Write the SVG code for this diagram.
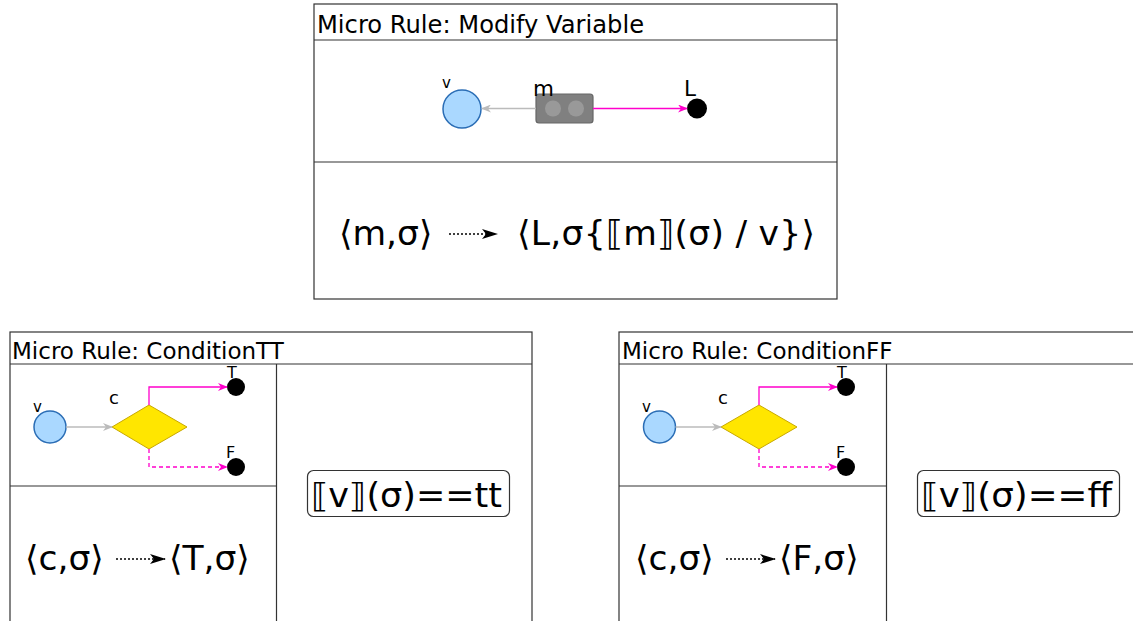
<svg xmlns="http://www.w3.org/2000/svg" width="1133" height="621" viewBox="0 0 1133 621">
<style>
.frame{fill:#fff;stroke:#333;stroke-width:1.2}
.ln{stroke:#333;stroke-width:1.2;fill:none}
.t{font-family:"DejaVu Sans",sans-serif;fill:#000}
.title{font-size:24.2px}
.title2{font-size:23px}
.lbl{font-size:15px}
.lblc{font-size:18px}
.lblt{font-size:16px}
.lblb{font-size:21.5px}
.fx{font-size:34.5px}
.fc{font-size:33px}
.var{fill:#aad8ff;stroke:#2a6db5;stroke-width:1.5}
.loc{fill:#000}
.dia{fill:#ffe600;stroke:#c8a800;stroke-width:1}
.cond{fill:#fff;stroke:#333;stroke-width:1.2}
.gray{stroke:#bbb;stroke-width:1.3;fill:none}
.mag{stroke:#ff00cc;stroke-width:1.3;fill:none}
.magd{stroke:#ff00cc;stroke-width:1.3;fill:none;stroke-dasharray:4 3}
.dot{stroke:#000;stroke-width:1.5;fill:none;stroke-dasharray:2 2}
</style>
<defs>
<marker id="ag" markerWidth="10" markerHeight="8" refX="9" refY="4" orient="auto" markerUnits="userSpaceOnUse"><path d="M0,0 L10,4 L0,8 L3,4 z" fill="#bbb"/></marker>
<marker id="am" markerWidth="10" markerHeight="8" refX="9" refY="4" orient="auto" markerUnits="userSpaceOnUse"><path d="M0,0 L10,4 L0,8 L3,4 z" fill="#ff00cc"/></marker>
<marker id="ab" markerWidth="16" markerHeight="10" refX="15" refY="5" orient="auto" markerUnits="userSpaceOnUse"><path d="M0,0 L16,5 L0,10 L4,5 z" fill="#000"/></marker>
</defs>

<g id="rule-modify">
<rect class="frame" x="314" y="4" width="523" height="295"/>
<line class="ln" x1="314" y1="40" x2="837" y2="40"/>
<line class="ln" x1="314" y1="162" x2="837" y2="162"/>
<text class="t title" x="317" y="33">Micro Rule: Modify Variable</text>
<text class="t fx" x="339" y="245">⟨m,σ⟩</text>
<text class="t fx" x="517" y="245" textLength="298" lengthAdjust="spacing">⟨L,σ{⟦m⟧(σ) / v}⟩</text>
</g>
<g id="mv-v"><circle class="var" cx="462" cy="109" r="19"/><text class="t lbl" x="442" y="88">v</text></g>
<g id="mv-m"><rect x="536" y="94" width="57" height="29" rx="3" fill="#808080" stroke="#666" stroke-width="1.2"/><circle cx="553" cy="108.5" r="8" fill="#999"/><circle cx="576" cy="108.5" r="8" fill="#999"/><text class="t lblb" x="533" y="96">m</text></g>
<g id="mv-L"><circle class="loc" cx="697" cy="108.5" r="10"/><text class="t lblb" x="684" y="96">L</text></g>

<g id="rule-tt">
<rect class="frame" x="10" y="332" width="522" height="310"/>
<line class="ln" x1="10" y1="364" x2="532" y2="364"/>
<line class="ln" x1="276.5" y1="364" x2="276.5" y2="642"/>
<line class="ln" x1="10" y1="486" x2="276.5" y2="486"/>
<text class="t title2" x="12" y="359">Micro Rule: ConditionTT</text>
<text class="t fx" x="25" y="570">⟨c,σ⟩</text>
<text class="t fx" x="169" y="570">⟨T,σ⟩</text>
</g>
<g id="tt-v"><circle class="var" cx="50" cy="427" r="16"/><text class="t lbl" x="33" y="412">v</text></g>
<g id="tt-c"><polygon class="dia" points="112,427 149,405 187,427 149,449"/><text class="t lblc" x="109" y="404">c</text></g>
<g id="tt-T"><circle class="loc" cx="236" cy="387" r="9"/><text class="t lblt" x="227" y="378">T</text></g>
<g id="tt-F"><circle class="loc" cx="236" cy="467" r="9"/><text class="t lblt" x="226" y="458">F</text></g>
<g id="tt-cond"><rect class="cond" x="307.5" y="470.5" width="202" height="46" rx="6"/><text class="t fc" x="311" y="507" textLength="191" lengthAdjust="spacingAndGlyphs">⟦v⟧(σ)==tt</text></g>

<g id="rule-ff">
<rect class="frame" x="619" y="332" width="530" height="310"/>
<line class="ln" x1="619" y1="364" x2="1149" y2="364"/>
<line class="ln" x1="886.5" y1="364" x2="886.5" y2="642"/>
<line class="ln" x1="619" y1="486" x2="886.5" y2="486"/>
<text class="t title2" x="622" y="359">Micro Rule: ConditionFF</text>
<text class="t fx" x="635" y="570">⟨c,σ⟩</text>
<text class="t fx" x="779" y="570">⟨F,σ⟩</text>
</g>
<g id="ff-v"><circle class="var" cx="659.5" cy="427" r="16"/><text class="t lbl" x="642" y="412">v</text></g>
<g id="ff-c"><polygon class="dia" points="721,427 759,405 797,427 759,449"/><text class="t lblc" x="718" y="404">c</text></g>
<g id="ff-T"><circle class="loc" cx="846" cy="387" r="9"/><text class="t lblt" x="837" y="378">T</text></g>
<g id="ff-F"><circle class="loc" cx="846" cy="467" r="9"/><text class="t lblt" x="836" y="458">F</text></g>
<g id="ff-cond"><rect class="cond" x="917.5" y="470.5" width="202" height="46" rx="6"/><text class="t fc" x="921" y="507" textLength="191" lengthAdjust="spacingAndGlyphs">⟦v⟧(σ)==ff</text></g>

<g id="connectors">
<line class="gray" x1="536" y1="108.5" x2="482" y2="108.5" marker-end="url(#ag)"/>
<line class="mag" x1="593" y1="108.5" x2="687" y2="108.5" marker-end="url(#am)"/>
<line class="dot" x1="449" y1="234" x2="497" y2="234" marker-end="url(#ab)"/>

<line class="gray" x1="66" y1="427" x2="112" y2="427" marker-end="url(#ag)"/>
<polyline class="mag" points="149,405 149,387 227,387" marker-end="url(#am)"/>
<polyline class="magd" points="149,449 149,467 227,467" marker-end="url(#am)"/>
<line class="dot" x1="116" y1="559" x2="165" y2="559" marker-end="url(#ab)"/>

<line class="gray" x1="675.5" y1="427" x2="721" y2="427" marker-end="url(#ag)"/>
<polyline class="mag" points="759,405 759,387 837,387" marker-end="url(#am)"/>
<polyline class="magd" points="759,449 759,467 837,467" marker-end="url(#am)"/>
<line class="dot" x1="726" y1="559" x2="775" y2="559" marker-end="url(#ab)"/>
</g>
</svg>
